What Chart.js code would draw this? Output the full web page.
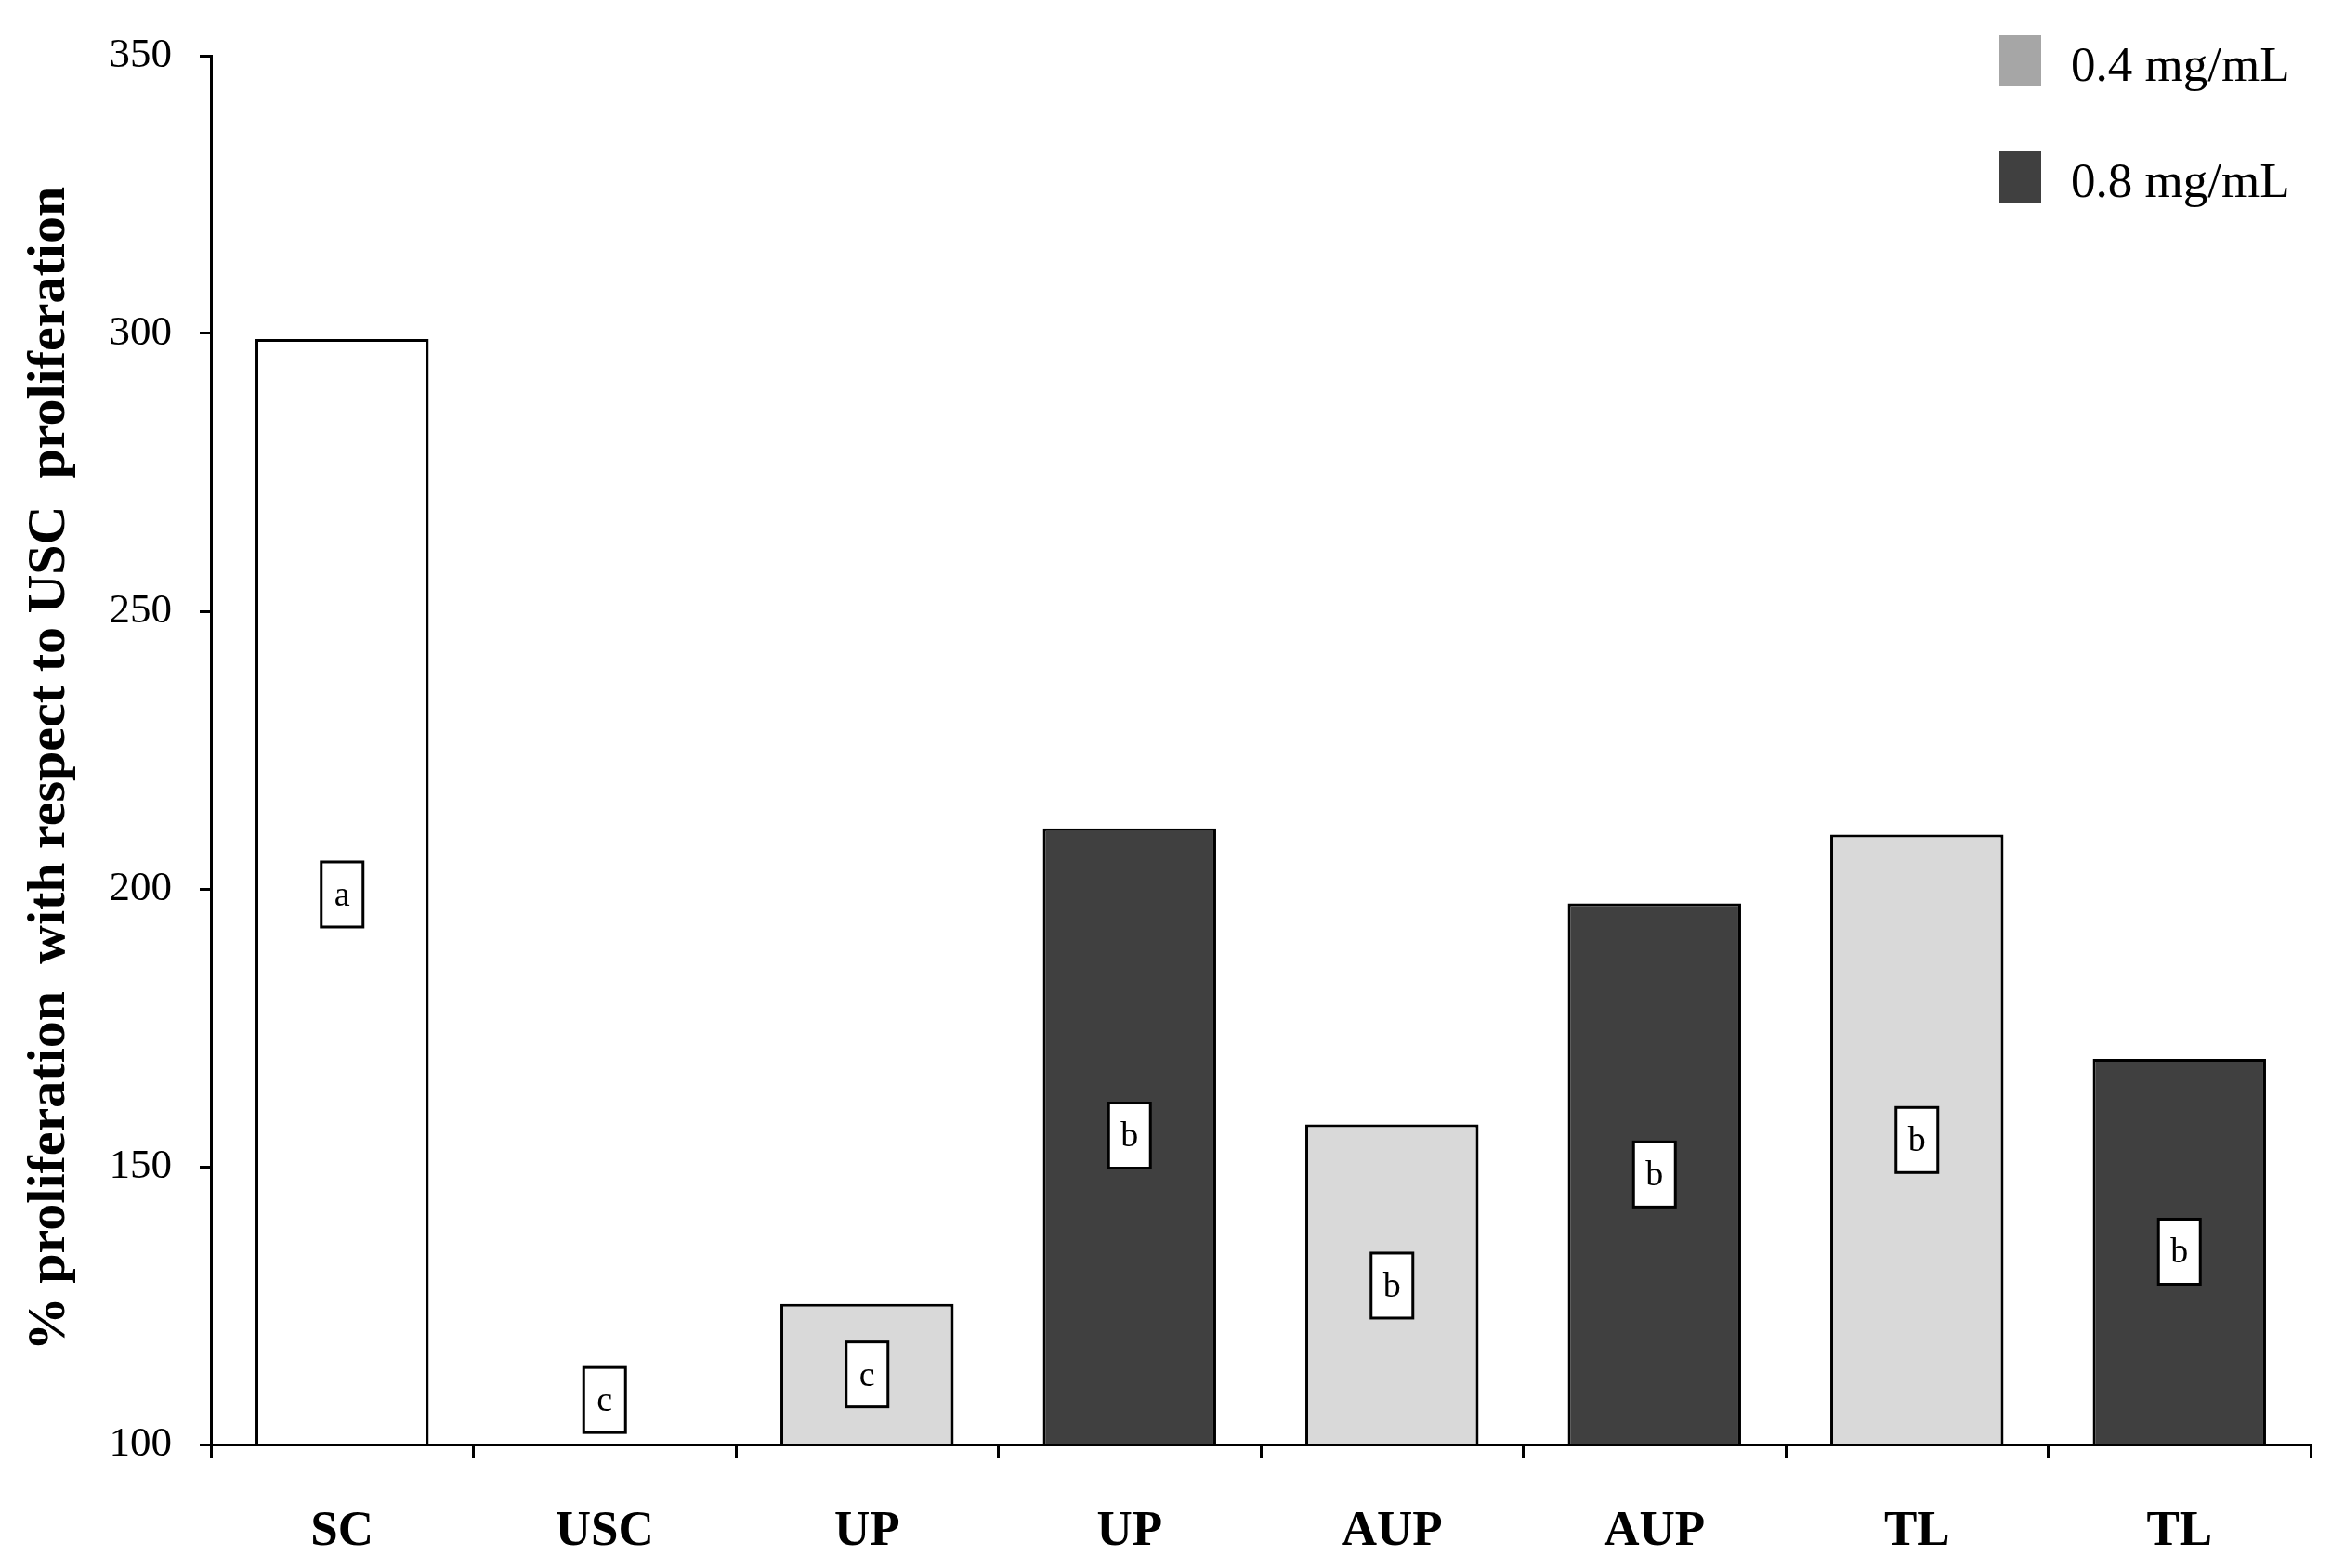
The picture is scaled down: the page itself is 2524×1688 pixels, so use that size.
<!DOCTYPE html>
<html>
<head>
<meta charset="utf-8">
<script src="https://cdn.jsdelivr.net/npm/chart.js@4"></script>
<style>
  html,body{margin:0;padding:0;background:#fff;}
  #wrap{width:2524px;height:1688px;}
</style>
</head>
<body>
<div id="wrap"><canvas id="c" width="2524" height="1688"></canvas></div>
<script>
// ---- data ----
const categories = ['SC', 'USC', 'UP', 'UP', 'AUP', 'AUP', 'TL', 'TL'];
const concentration = ['ctrl', 'ctrl', '0.4', '0.8', '0.4', '0.8', '0.4', '0.8'];
const proliferation = [299, 100, 125.3, 210.9, 157.6, 197.4, 209.8, 169.4];
const letters = ['a', 'c', 'c', 'b', 'b', 'b', 'b', 'b'];
const letterValues = [199, 108, 112.6, 155.6, 128.6, 148.6, 154.8, 134.7];
const yTicks = [100, 150, 200, 250, 300, 350];
const legendLabels = ['0.4 mg/mL', '0.8 mg/mL'];
const yTitle = '% proliferation  with respect to USC  proliferation';

// ---- styles ----
const barColors = { 'ctrl': '#ffffff', '0.4': '#d9d9d9', '0.8': '#404040' };
const legendColors = ['#a6a6a6', '#404040'];
const serif = '"Liberation Serif", "Times New Roman", serif';

const letterPlugin = {
  id: 'letters',
  afterDatasetsDraw(chart) {
    const ctx = chart.ctx;
    const xs = chart.scales.x, ys = chart.scales.y;
    ctx.save();
    letters.forEach((t, i) => {
      const cx = xs.getPixelForValue(i);
      const cy = ys.getPixelForValue(letterValues[i]);
      const w = 45, h = 70;
      ctx.fillStyle = '#fff';
      ctx.fillRect(cx - w / 2, cy - h / 2, w, h);
      ctx.lineWidth = 3;
      ctx.strokeStyle = '#000';
      ctx.strokeRect(cx - w / 2, cy - h / 2, w, h);
      ctx.fillStyle = '#000';
      ctx.font = '38px ' + serif;
      ctx.textAlign = 'center';
      ctx.textBaseline = 'middle';
      ctx.fillText(t, cx, cy + 2);
    });
    ctx.restore();
  }
};

// y-axis title drawn manually so its centre can sit where the reference has it
const titlePlugin = {
  id: 'yTitleText',
  afterDraw(chart) {
    const ctx = chart.ctx;
    const ys = chart.scales.y;
    const cy = (ys.top + ys.bottom) / 2 + 20;
    ctx.save();
    ctx.translate(54, cy);
    ctx.rotate(-Math.PI / 2);
    ctx.fillStyle = '#000';
    ctx.font = 'bold 58px ' + serif;
    ctx.textAlign = 'center';
    ctx.textBaseline = 'middle';
    ctx.fillText(yTitle, 0, 0);
    ctx.restore();
  }
};

const legendPlugin = {
  id: 'customLegend',
  afterDraw(chart) {
    const ctx = chart.ctx;
    ctx.save();
    const x0 = 2152, tops = [38, 163];
    legendLabels.forEach((lab, i) => {
      ctx.fillStyle = legendColors[i];
      ctx.fillRect(x0, tops[i], 45, 55);
      ctx.fillStyle = '#000';
      ctx.font = '53px ' + serif;
      ctx.textAlign = 'left';
      ctx.textBaseline = 'alphabetic';
      ctx.fillText(lab, 2229, tops[i] + 49);
    });
    ctx.restore();
  }
};

new Chart(document.getElementById('c'), {
  type: 'bar',
  data: {
    labels: categories,
    datasets: [{
      label: 'proliferation',
      data: proliferation,
      backgroundColor: concentration.map(c => barColors[c]),
      borderColor: '#000',
      borderWidth: 3,
      borderSkipped: false,
      barPercentage: 0.66,
      categoryPercentage: 1
    }]
  },
  options: {
    responsive: false,
    animation: false,
    devicePixelRatio: 1,
    layout: { padding: { top: 60, right: 37, left: 0, bottom: 0 } },
    plugins: { legend: { display: false }, tooltip: { enabled: false } },
    scales: {
      x: {
        grid: { display: true, offset: true, drawOnChartArea: false, tickLength: 15, color: '#000', lineWidth: 3 },
        border: { display: true, color: '#000', width: 3 },
        ticks: { color: '#000', font: { family: serif, size: 53, weight: 'bold' }, padding: 48, maxRotation: 0 },
        afterFit(s) { s.height = 133; }
      },
      y: {
        min: 100, max: 350,
        afterBuildTicks(s) { s.ticks = yTicks.map(v => ({ value: v })); },
        grid: { display: true, drawOnChartArea: false, tickLength: 12, color: '#000', lineWidth: 3 },
        border: { display: true, color: '#000', width: 3 },
        ticks: { color: '#000', font: { family: serif, size: 45 }, padding: 30 },
        title: { display: false },
        afterFit(s) { s.width = 227; }
      }
    }
  },
  plugins: [letterPlugin, titlePlugin, legendPlugin]
});
</script>
</body>
</html>
